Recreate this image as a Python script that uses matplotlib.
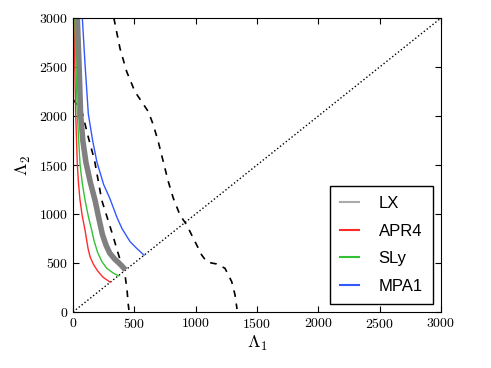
import matplotlib
matplotlib.use('Agg')
import matplotlib.pyplot as plt
from matplotlib.lines import Line2D

plt.rcParams['mathtext.fontset'] = 'cm'
plt.rcParams['axes.formatter.use_mathtext'] = True

# curves (Lambda_1, Lambda_2)
lx_l1 = [35, 49, 62, 80, 105, 140, 179, 210, 240, 270, 300, 340, 383, 428]
lx_l2 = [3000, 2531, 2020, 1750, 1530, 1330, 1143, 960, 790, 680, 600, 540, 490, 430]

apr4_l1 = [8, 14, 22, 35, 45, 57, 76, 98, 111, 124, 139, 165, 200, 245, 302]
apr4_l2 = [3000, 2531, 2020, 1510, 1310, 1143, 975, 837, 735, 640, 565, 490, 420, 355, 305]

sly_l1 = [16, 24, 35, 57, 76, 98, 125, 152, 170, 200, 235, 275, 325, 372]
sly_l2 = [3000, 2531, 2020, 1510, 1310, 1143, 975, 837, 735, 610, 515, 446, 400, 368]

mpa1_l1 = [76, 98, 125, 160, 195, 250, 300, 360, 400, 465, 519, 579]
mpa1_l2 = [3000, 2531, 2020, 1750, 1530, 1300, 1160, 960, 850, 718, 650, 580]

# dashed bounds
bound1_l1 = [0, 71, 125, 175, 234, 300, 330, 360, 400, 424, 440, 451, 456]
bound1_l2 = [2170, 2054, 1782, 1551, 1143, 880, 760, 630, 470, 378, 230, 71, 20]

bound2_l1 = [333, 383, 438, 505, 560, 614, 655, 695, 736, 777, 818, 872, 927,
             981, 1049, 1090, 1130, 1171, 1239, 1294, 1321, 1337]
bound2_l2 = [3000, 2690, 2452, 2248, 2146, 2044, 1908, 1738, 1534, 1330, 1160, 990, 888,
             752, 582, 513, 500, 490, 446, 309, 173, 30]

diag = [0, 3000]

labels = ['LX', 'APR4', 'SLy', 'MPA1']
colors = ['#aaaaaa', '#ff2a2a', '#33c233', '#3358ff']

fig = plt.figure(figsize=(4.91, 3.68), dpi=100)
ax = fig.add_axes([73 / 491, 1 - 312 / 368, 368 / 491, 294 / 368])

ax.plot(diag, diag, color='black', linestyle=':', linewidth=1)
ax.plot(bound1_l1, bound1_l2, color='black', linestyle='--', linewidth=1.2, dashes=(4, 4))
ax.plot(bound2_l1, bound2_l2, color='black', linestyle='--', linewidth=1.2, dashes=(4, 4))

ax.plot(lx_l1, lx_l2, color='#808080', linewidth=4, solid_capstyle='butt',
        solid_joinstyle='round')
ax.plot(apr4_l1, apr4_l2, color=colors[1], linewidth=1)
ax.plot(sly_l1, sly_l2, color=colors[2], linewidth=1)
ax.plot(mpa1_l1, mpa1_l2, color=colors[3], linewidth=1)

ax.set_xlim(0, 3000)
ax.set_ylim(0, 3000)
ax.set_xticks(range(0, 3001, 500))
ax.set_yticks(range(0, 3001, 500))
ax.tick_params(direction='in', top=True, right=True, length=4, width=0.8,
               labelsize=10, labelfontfamily='cmr10')
ax.set_xlabel(r'$\Lambda_1$', fontsize=13, labelpad=2)
ax.set_ylabel(r'$\Lambda_2$', fontsize=13, labelpad=4)

handles = [Line2D([], [], color=c, linewidth=1.5) for c in colors]
leg = ax.legend(handles, labels, loc='lower right',
                prop={'family': 'Liberation Sans', 'size': 12},
                handlelength=1.1, handletextpad=1.2, labelspacing=0.75,
                borderpad=0.6, fancybox=False, framealpha=1, edgecolor='black')
leg.get_frame().set_linewidth(1)

fig.savefig('out.png', dpi=100)
